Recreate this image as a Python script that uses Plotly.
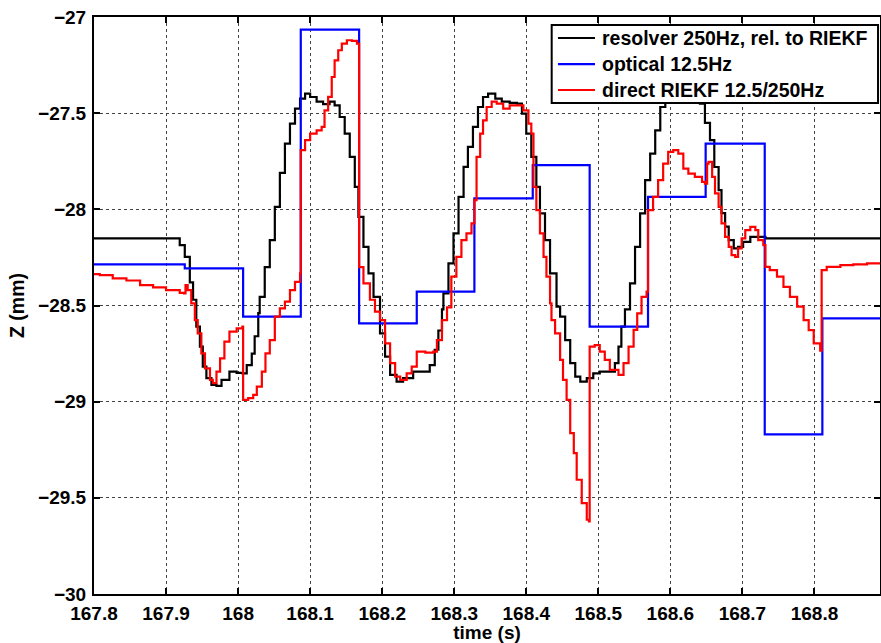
import plotly.graph_objects as go

# ---------------- data ----------------
t_res = [167.800, 167.912, 167.919, 167.926, 167.933, 167.9375, 167.942, 167.947, 167.951, 167.956,
         167.963, 167.970, 167.977, 167.988, 167.998, 168.006, 168.012, 168.019, 168.023, 168.028,
         168.030, 168.037, 168.044, 168.051, 168.058, 168.065, 168.072, 168.079, 168.086, 168.093,
         168.100, 168.109, 168.118, 168.127, 168.134, 168.141, 168.148, 168.155, 168.162, 168.167,
         168.174, 168.181, 168.188, 168.197, 168.204, 168.211, 168.220, 168.229, 168.243, 168.257,
         168.266, 168.273, 168.278, 168.283, 168.285, 168.292, 168.299, 168.306, 168.313, 168.319,
         168.326, 168.333, 168.340, 168.347, 168.357, 168.366, 168.377, 168.387, 168.394, 168.400,
         168.407, 168.414, 168.419, 168.426, 168.433, 168.442, 168.447, 168.454, 168.461, 168.468,
         168.475, 168.484, 168.493, 168.502, 168.514, 168.523, 168.528, 168.532, 168.537, 168.544,
         168.551, 168.558, 168.565, 168.572, 168.579, 168.586, 168.593, 168.600, 168.610, 168.620,
         168.630, 168.641, 168.648, 168.655, 168.661, 168.667, 168.671, 168.676, 168.681, 168.688,
         168.694, 168.701, 168.711, 168.720, 168.732, 168.891]
z_res = [-28.151, -28.151, -28.186, -28.247, -28.380, -28.470, -28.610, -28.714, -28.818, -28.878,
         -28.913, -28.918, -28.887, -28.844, -28.850, -28.853, -28.810, -28.750, -28.660, -28.540,
         -28.455, -28.300, -28.160, -27.987, -27.810, -27.658, -27.554, -27.476, -27.424, -27.398,
         -27.416, -27.440, -27.453, -27.440, -27.459, -27.520, -27.606, -27.727, -27.883, -28.039,
         -28.195, -28.333, -28.455, -28.645, -28.766, -28.861, -28.896, -28.878, -28.844, -28.844,
         -28.810, -28.730, -28.630, -28.520, -28.437, -28.281, -28.125, -27.935, -27.779, -27.675,
         -27.571, -27.468, -27.416, -27.398, -27.424, -27.440, -27.447, -27.450, -27.502, -27.606,
         -27.727, -27.883, -28.021, -28.160, -28.333, -28.506, -28.558, -28.680, -28.800, -28.870,
         -28.896, -28.878, -28.853, -28.844, -28.844, -28.800, -28.714, -28.610, -28.520, -28.385,
         -28.195, -28.021, -27.848, -27.710, -27.589, -27.468, -27.420, -27.400, -27.410, -27.430,
         -27.430, -27.450, -27.550, -27.640, -27.780, -27.900, -28.020, -28.090, -28.160, -28.203,
         -28.195, -28.169, -28.143, -28.143, -28.151, -28.151]

t_opt = [167.800, 167.926, 168.007, 168.087, 168.168, 168.248, 168.328, 168.409, 168.488,
         168.569, 168.649, 168.731, 168.811, 168.891]
z_opt = [-28.286, -28.307, -28.558, -27.066, -28.593, -28.428, -27.943, -27.770, -28.610,
         -27.935, -27.658, -29.170, -28.567, -28.567]

t_dir = [167.800, 167.808, 167.826, 167.845, 167.864, 167.882, 167.900, 167.919, 167.925, 167.927,
         167.930, 167.935, 167.940, 167.944, 167.949, 167.954, 167.961, 167.965, 167.970, 167.975,
         167.981, 167.988, 167.998, 168.006, 168.007, 168.014, 168.021, 168.026, 168.033, 168.038,
         168.044, 168.051, 168.058, 168.065, 168.072, 168.079, 168.086, 168.087, 168.093, 168.100,
         168.109, 168.116, 168.120, 168.125, 168.130, 168.134, 168.139, 168.144, 168.151, 168.158,
         168.165, 168.168, 168.174, 168.183, 168.190, 168.197, 168.204, 168.211, 168.218, 168.225,
         168.234, 168.241, 168.248, 168.260, 168.271, 168.276, 168.283, 168.290, 168.296, 168.303,
         168.310, 168.317, 168.324, 168.328, 168.331, 168.336, 168.340, 168.345, 168.352, 168.359,
         168.368, 168.377, 168.387, 168.396, 168.403, 168.407, 168.410, 168.414, 168.419, 168.424,
         168.428, 168.433, 168.435, 168.440, 168.447, 168.451, 168.456, 168.461, 168.466, 168.470,
         168.477, 168.484, 168.487, 168.488, 168.495, 168.502, 168.509, 168.516, 168.528, 168.535,
         168.542, 168.549, 168.554, 168.560, 168.567, 168.569, 168.576, 168.583, 168.590, 168.597,
         168.604, 168.611, 168.618, 168.625, 168.634, 168.644, 168.648, 168.651, 168.653, 168.658,
         168.662, 168.667, 168.671, 168.676, 168.681, 168.685, 168.690, 168.694, 168.699, 168.704,
         168.711, 168.718, 168.722, 168.729, 168.732, 168.738, 168.748, 168.757, 168.766, 168.776,
         168.785, 168.792, 168.799, 168.808, 168.810, 168.817, 168.836, 168.854, 168.873, 168.891]
z_dir = [-28.337, -28.342, -28.359, -28.370, -28.394, -28.406, -28.420, -28.434, -28.437, -28.394,
         -28.420, -28.489, -28.576, -28.645, -28.749, -28.827, -28.887, -28.904, -28.844, -28.775,
         -28.688, -28.636, -28.619, -28.610, -28.991, -28.982, -28.965, -28.922, -28.844, -28.749,
         -28.680, -28.558, -28.515, -28.480, -28.420, -28.377, -28.333, -27.692, -27.640, -27.606,
         -27.589, -27.571, -27.485, -27.415, -27.312, -27.225, -27.173, -27.138, -27.121, -27.124,
         -27.138, -28.300, -28.385, -28.470, -28.532, -28.576, -28.697, -28.800, -28.870, -28.887,
         -28.853, -28.818, -28.740, -28.745, -28.740, -28.680, -28.576, -28.510, -28.350, -28.247,
         -28.160, -28.125, -28.073, -27.952, -27.727, -27.606, -27.537, -27.468, -27.440, -27.450,
         -27.476, -27.459, -27.459, -27.485, -27.554, -27.606, -27.883, -28.004, -28.125, -28.247,
         -28.350, -28.489, -28.576, -28.645, -28.783, -28.887, -28.991, -29.164, -29.268, -29.406,
         -29.527, -29.614, -29.623, -28.714, -28.706, -28.740, -28.783, -28.835, -28.861, -28.800,
         -28.714, -28.627, -28.541, -28.455, -28.428, -28.004, -27.935, -27.848, -27.762, -27.701,
         -27.692, -27.710, -27.788, -27.814, -27.831, -27.857, -27.866, -27.762, -27.753, -27.831,
         -27.917, -27.987, -28.073, -28.143, -28.195, -28.238, -28.247, -28.203, -28.151, -28.108,
         -28.091, -28.108, -28.160, -28.186, -28.299, -28.316, -28.350, -28.403, -28.455, -28.506,
         -28.576, -28.628, -28.697, -28.735, -28.316, -28.299, -28.290, -28.286, -28.281, -28.281]

series_names = ["resolver 250Hz, rel. to RIEKF", "optical 12.5Hz", "direct RIEKF 12.5/250Hz"]
series_colors = ["#000000", "#0000ff", "#ff0000"]

x_ticks = [167.8, 167.9, 168.0, 168.1, 168.2, 168.3, 168.4, 168.5, 168.6, 168.7, 168.8]
y_ticks = [-30, -29.5, -29, -28.5, -28, -27.5, -27]

assert len(t_res) == len(z_res)
assert len(t_opt) == len(z_opt)
assert len(t_dir) == len(z_dir)

# ---------------- figure ----------------
FONT = "Liberation Sans, Arial, sans-serif"
fig = go.Figure()
for (tx, zy), name, col in zip([(t_res, z_res), (t_opt, z_opt), (t_dir, z_dir)],
                               series_names, series_colors):
    fig.add_trace(go.Scatter(x=tx, y=zy, mode="lines", line_shape="hv",
                             line=dict(color=col, width=2.2), name=name,
                             showlegend=False))

# legend box drawn in paper coordinates (MATLAB style: compact rows)
box = dict(x0=0.5823, x1=0.9975, y0=0.8510, y1=0.9861)
row_y = [0.9636, 0.9185, 0.8735]
fig.add_shape(type="rect", xref="paper", yref="paper", layer="above",
              fillcolor="white", line=dict(color="black", width=2), **box)
for ry, name, col in zip(row_y, series_names, series_colors):
    fig.add_shape(type="line", xref="paper", yref="paper", layer="above",
                  x0=0.5903, x1=0.6374, y0=ry, y1=ry, line=dict(color=col, width=2.2))
    fig.add_annotation(xref="paper", yref="paper", x=0.6438, y=ry, xanchor="left",
                       yanchor="middle", text=name, showarrow=False,
                       font=dict(family=FONT, size=19.5, color="black", weight="bold"))

axis_common = dict(
    showline=True, linewidth=2, linecolor="black", mirror="ticks",
    ticks="inside", ticklen=6, tickwidth=2, tickcolor="black",
    showgrid=True, gridcolor="#444444", gridwidth=1, griddash="dot",
    zeroline=False, automargin=False,
    tickfont=dict(family=FONT, size=19, color="black", weight="bold"),
)

fig.update_layout(
    width=881, height=643,
    margin=dict(l=94, r=1, t=17, b=49),
    plot_bgcolor="white", paper_bgcolor="white",
    font=dict(family=FONT, size=19, color="black", weight="bold"),
    showlegend=False,
    xaxis=dict(range=[167.8, 168.891], tickvals=x_ticks,
               ticktext=[f"{v:g}" for v in x_ticks],
               title=dict(text="time (s)", standoff=3,
                          font=dict(family=FONT, size=19, color="black", weight="bold")),
               ticklabelstandoff=1, **axis_common),
    yaxis=dict(range=[-30, -27], tickvals=y_ticks,
               ticktext=[f"\u2212{abs(v):g}" for v in y_ticks],
               title=dict(text="Z (mm)", standoff=8,
                          font=dict(family=FONT, size=19.5, color="black", weight="bold")),
               ticklabelstandoff=2, **axis_common),
)

fig.write_html("out.html", config={"displayModeBar": False},
               post_script="document.body.style.margin='0';document.body.style.padding='0';"
                           "document.body.style.overflow='hidden';")
